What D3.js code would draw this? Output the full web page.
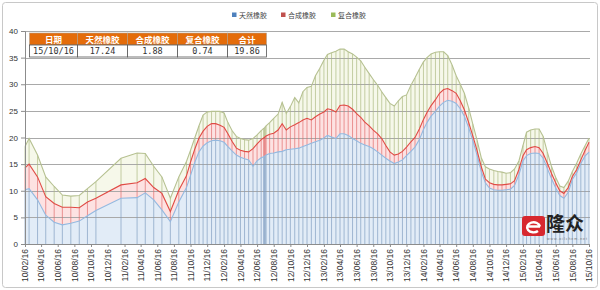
<!DOCTYPE html>
<html><head><meta charset="utf-8">
<script src="https://cdn.jsdelivr.net/npm/d3@7"></script>
<style>body{margin:0;background:#fff}svg{display:block}</style>
</head><body>
<svg id="chart" width="600" height="290"></svg>
<script>
const dates = [
"10/02/16","10/03/03","10/04/03","10/05/03","10/06/03","10/07/03","10/08/03","10/09/03","10/10/03","10/11/03",
"11/02/03","11/04/03","11/05/03","11/06/03","11/07/03","11/08/03","11/09/03",
"11/10/01","11/10/16","11/11/01","11/11/16","11/12/01","11/12/16",
"12/01/01","12/01/16","12/02/01","12/02/16","12/03/01","12/03/16","12/04/01","12/04/16","12/05/01","12/05/16",
"12/06/01","12/06/16","12/07/01","12/07/10","12/07/13","12/07/16","12/07/19",
"12/08/01","12/08/16","12/09/01","12/09/16","12/10/01","12/10/16","12/11/01","12/11/16","12/12/01","12/12/16",
"13/01/01","13/01/16","13/02/01","13/02/16","13/03/01","13/03/16","13/04/01","13/04/16","13/05/01","13/05/16","13/06/01","13/06/16",
"13/07/01","13/07/16","13/08/01","13/08/16","13/09/01","13/09/16","13/10/01","13/10/16","13/11/01","13/11/16","13/12/01","13/12/16",
"14/01/01","14/01/16","14/02/01","14/02/16","14/03/01","14/03/16","14/04/01","14/04/16","14/05/01","14/05/16","14/06/01","14/06/16",
"14/07/01","14/07/16","14/08/01","14/08/16","14/09/01","14/09/16","14/10/01","14/10/16","14/11/01","14/11/16","14/12/01","14/12/16",
"15/01/01","15/01/16","15/02/01","15/02/16","15/03/01","15/03/16","15/04/01","15/04/16","15/05/01","15/05/16","15/06/01","15/06/16",
"15/07/01","15/07/16","15/08/01","15/08/16","15/09/01","15/09/16","15/10/01","15/10/16"];

const natural = [
10.2,10.4,8.3,5.4,4.1,3.6,3.9,4.3,5.3,6.3,
8.6,8.7,9.6,8.3,6.4,4.2,7.9,
10.6,12.9,15.4,17.3,18.4,19.0,
19.4,19.5,19.4,19.1,18.3,17.5,16.7,16.3,16.0,15.8,
14.6,15.6,16.2,16.4,16.5,16.6,16.7,
17.0,17.1,17.3,17.4,17.7,17.8,17.9,18.0,18.3,18.6,
18.9,19.2,19.5,19.9,20.4,20.1,19.8,20.7,20.7,20.4,19.8,19.4,
18.9,18.6,18.3,17.9,17.3,16.7,16.1,15.6,15.1,15.4,15.8,16.6,
17.4,18.2,19.6,21.5,22.8,24.0,24.9,25.9,26.6,27.0,26.8,26.4,
25.4,24.0,21.8,19.4,16.6,13.6,11.5,10.5,10.2,10.1,10.1,10.2,
10.3,11.0,13.0,15.6,16.6,17.0,17.1,17.0,16.1,14.2,12.2,10.5,
9.1,8.6,9.7,12.1,13.4,15.1,16.5,17.24];

const synthetic = [
4.1,4.6,4.3,3.5,3.5,3.3,3.0,2.5,2.6,2.3,
2.5,2.8,2.7,2.3,3.1,1.9,2.2,
2.2,2.5,2.5,2.6,2.8,3.1,
3.2,3.1,2.9,2.8,2.4,1.8,1.3,1.3,1.4,1.5,
3.3,3.2,3.4,3.5,3.5,3.6,3.6,
3.6,3.7,4.1,5.2,3.7,4.2,4.5,4.8,5.0,5.0,
4.4,4.7,4.9,4.9,5.0,5.1,5.0,5.3,5.4,5.5,5.5,5.1,
4.9,4.3,3.9,3.5,3.4,3.1,2.4,1.7,1.6,1.5,1.6,1.6,
1.8,1.8,2.0,1.9,1.9,2.0,2.2,2.4,2.4,2.2,2.0,1.9,
1.5,1.2,1.0,0.9,0.9,0.9,0.7,1.0,1.0,1.0,1.0,1.0,
1.0,0.9,1.0,1.0,1.1,1.1,1.2,1.1,0.9,1.0,1.0,1.0,
0.9,0.9,0.9,0.6,0.6,0.7,1.0,1.88];

const composite = [
4.0,4.8,4.1,3.7,3.2,2.3,2.1,2.3,2.5,3.1,
5.0,5.6,4.7,4.0,3.1,2.5,2.5,
2.7,2.2,2.1,2.3,3.0,2.7,
2.3,2.3,2.6,2.7,2.1,2.0,2.2,2.2,2.2,2.2,
1.9,1.7,1.7,1.8,1.8,1.8,1.9,
2.2,2.8,3.0,4.0,3.1,3.8,5.1,3.7,5.3,5.8,
6.3,7.7,8.6,9.7,10.2,10.7,11.4,10.6,10.5,10.2,10.4,10.6,
10.6,10.3,9.8,9.5,9.1,8.8,9.0,9.1,9.2,10.0,10.3,9.8,
10.6,11.2,11.2,10.8,10.3,9.7,8.9,7.8,7.1,6.2,4.8,3.3,
3.1,3.1,2.7,2.2,1.9,1.7,2.3,2.6,2.6,2.5,2.4,2.1,
2.1,2.2,1.6,1.9,3.3,3.3,3.3,3.5,3.2,2.1,1.3,1.0,
0.9,1.1,1.2,0.9,1.2,1.1,0.9,0.74];

const seriesNames = ["天然橡胶","合成橡胶","复合橡胶"];
const tickLabels = ["10/02/16","10/04/16","10/06/16","10/08/16","10/10/16","10/12/16",
"11/02/16","11/04/16","11/06/16","11/08/16","11/10/16","11/12/16",
"12/02/16","12/04/16","12/06/16","12/08/16","12/10/16","12/12/16",
"13/02/16","13/04/16","13/06/16","13/08/16","13/10/16","13/12/16",
"14/02/16","14/04/16","14/06/16","14/08/16","14/10/16","14/12/16",
"15/02/16","15/04/16","15/06/16","15/08/16","15/10/16"];
const yTicks = [0,5,10,15,20,25,30,35,40];
const tableHeaders = ["日期","天然橡胶","合成橡胶","复合橡胶","合计"];
const tableValues = ["15/10/16","17.24","1.88","0.74","19.86"];

const parse = d3.timeParse("%y/%m/%d");
const keys = ["natural","synthetic","composite"];
const rows = dates.map((d,i)=>({date:parse(d),natural:natural[i],synthetic:synthetic[i],composite:composite[i]}));
const layers = d3.stack().keys(keys)(rows);

const svg = d3.select("#chart");
const x = d3.scaleTime().domain([parse(tickLabels[0]), parse(tickLabels[tickLabels.length-1])]).range([25,589]);
const y = d3.scaleLinear().domain([0,40]).range([244,31]);

const legendColors = ["#4f81bd","#c0504d","#9bbb59"];
const fillColors = ["#e2ecf7","#fde2e2","#f6f8ea"];
const dropColors = ["#7f9dbf","#e06a6a","#aab77f"];
const lineColors = ["#93b9e0","#e04a44","#b6c191"];

// chart border
svg.append("rect").attr("x",2.5).attr("y",2.5).attr("width",595).attr("height",285)
  .attr("fill","#fff").attr("stroke","#c8c8c8").attr("rx",3);

// areas
const area = d3.area().x(d=>x(d.data.date)).y0(d=>y(d[0])).y1(d=>y(d[1]));
svg.append("g").selectAll("path").data(layers).join("path")
  .attr("d",area).attr("fill",(d,i)=>fillColors[i]);

// gridlines (visible through the areas)
svg.append("g").selectAll("line").data(yTicks.filter(v=>v>0)).join("line")
  .attr("x1",25).attr("x2",590).attr("y1",d=>Math.round(y(d))+0.5).attr("y2",d=>Math.round(y(d))+0.5)
  .attr("stroke","#a9a9a9").attr("stroke-width",1);

// drop lines
layers.forEach((layer,i)=>{
  svg.append("g").selectAll("line").data(layer).join("line")
    .attr("x1",d=>x(d.data.date)).attr("x2",d=>x(d.data.date))
    .attr("y1",d=>y(d[0])).attr("y2",d=>y(d[1]))
    .attr("stroke",dropColors[i]).attr("stroke-width",0.9).attr("stroke-opacity",0.75);
});

// boundary lines
const line = d3.line().x(d=>x(d.data.date)).y(d=>y(d[1]));
svg.append("g").selectAll("path").data(layers).join("path")
  .attr("d",line).attr("fill","none").attr("stroke",(d,i)=>lineColors[i]).attr("stroke-width",1.1);

// axes
const yAxis = svg.append("g").attr("transform","translate(25,0)")
  .call(d3.axisLeft(y).tickValues(yTicks).tickSize(4).tickPadding(3));
yAxis.select(".domain").attr("stroke","#8c8c8c");
yAxis.selectAll(".tick line").attr("stroke","#8c8c8c");
yAxis.selectAll("text").attr("font-family","Liberation Sans, Arial, sans-serif").attr("font-size",8).attr("fill","#333");

const xAxis = svg.append("g").attr("transform","translate(0,244)")
  .call(d3.axisBottom(x).tickValues(tickLabels.map(parse)).tickFormat((d,i)=>tickLabels[i]).tickSize(3));
xAxis.select(".domain").attr("stroke","#8c8c8c");
xAxis.selectAll(".tick line").attr("stroke","#8c8c8c");
xAxis.selectAll("text").attr("font-family","Liberation Sans, Arial, sans-serif").attr("font-size",8.5).attr("fill","#333")
  .attr("transform","rotate(-90)").attr("x",-5).attr("y",0).attr("dy","0.33em").style("text-anchor","end");

// legend
const legendX = [232,281,331];
const lg = svg.append("g").selectAll("g").data(seriesNames).join("g")
  .attr("transform",(d,i)=>`translate(${legendX[i]},15)`);
lg.append("rect").attr("x",0).attr("y",-2.5).attr("width",4.5).attr("height",4.5).attr("fill",(d,i)=>legendColors[i]);
lg.append("text").attr("x",7).attr("y",2.6).text(d=>d)
  .attr("font-family","Noto Sans CJK SC, sans-serif").attr("font-size",7).attr("fill","#444");

// table
const colX = [29.5,77.5,127.5,177.5,227.5];
const colW = [48,50,50,50,39];
const tb = svg.append("g");
tb.selectAll("rect.h").data(tableHeaders).join("rect").attr("class","h")
  .attr("x",(d,i)=>colX[i]).attr("y",33).attr("width",(d,i)=>colW[i]).attr("height",12)
  .attr("fill","#e46c0a").attr("stroke","#b0a090").attr("stroke-width",0.6);
tb.selectAll("text.h").data(tableHeaders).join("text").attr("class","h")
  .attr("x",(d,i)=>colX[i]+colW[i]/2).attr("y",42.5).attr("text-anchor","middle").text(d=>d)
  .attr("font-family","Noto Sans CJK SC, sans-serif").attr("font-size",8.5).attr("font-weight","bold").attr("fill","#fff");
tb.selectAll("rect.v").data(tableValues).join("rect").attr("class","v")
  .attr("x",(d,i)=>colX[i]).attr("y",45).attr("width",(d,i)=>colW[i]).attr("height",12)
  .attr("fill","#fff").attr("stroke","#555").attr("stroke-width",0.8);
tb.selectAll("text.v").data(tableValues).join("text").attr("class","v")
  .attr("x",(d,i)=>colX[i]+colW[i]/2).attr("y",54.3).attr("text-anchor","middle").text(d=>d)
  .attr("font-family","DejaVu Sans Mono, monospace").attr("font-size",8.5).attr("fill","#333");

// logo
const logo = svg.append("g");
logo.append("rect").attr("x",522).attr("y",216).attr("width",23).attr("height",20).attr("rx",3).attr("fill","#d7282f");
logo.append("path").attr("d","M527,226.5 h13 M540,226.5 a6.5,5 0 1 0 -2,4.5")
  .attr("fill","none").attr("stroke","#fff").attr("stroke-width",2.4);
logo.append("text").attr("x",546).attr("y",231).text("隆众")
  .attr("font-family","Noto Sans CJK SC, sans-serif").attr("font-size",19).attr("font-weight","bold").attr("fill","#222");
logo.append("text").attr("x",547).attr("y",239.5).text("www.oilchem.net").attr("textLength",40)
  .attr("font-family","Liberation Sans, sans-serif").attr("font-size",3.6).attr("fill","#777");
</script>
</body></html>
